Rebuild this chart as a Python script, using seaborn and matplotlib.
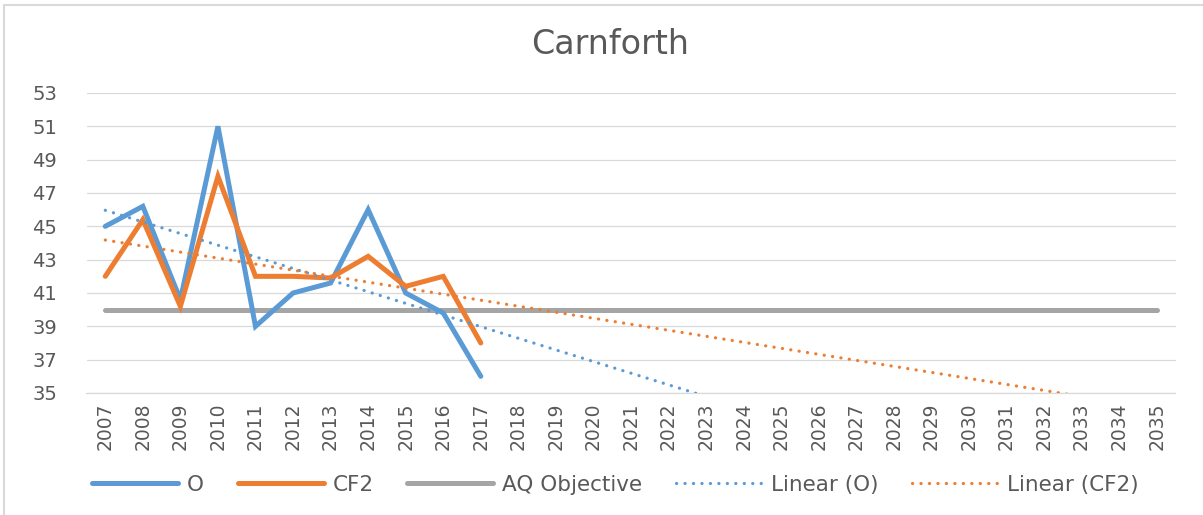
import matplotlib
matplotlib.use("Agg")
import matplotlib.pyplot as plt
import seaborn as sns
import pandas as pd
import numpy as np
from matplotlib.lines import Line2D

# ---- data ----
title = "Carnforth"
years_all = list(range(2007, 2036))
years_obs = list(range(2007, 2018))
o_values = [45.0, 46.2, 40.6, 51.0, 39.0, 41.0, 41.6, 46.0, 41.0, 39.8, 36.0]
cf2_values = [42.0, 45.4, 40.2, 48.0, 42.0, 42.0, 41.9, 43.2, 41.4, 42.0, 38.0]
aq_objective = [40] * len(years_all)
y_ticks = list(range(35, 54, 2))

BLUE = "#5B9BD5"
ORANGE = "#ED7D31"
GRAY = "#A5A5A5"
TXT = "#595959"

sns.set_theme(style="white")
plt.rcParams["font.family"] = ["DejaVu Sans"]

fig = plt.figure(figsize=(12.03, 5.15), dpi=100)
ax = fig.add_axes([86.5 / 1203, 1 - 393 / 515, (1175.5 - 86.5) / 1203, 300 / 515])

obs = pd.DataFrame({"year": years_obs, "O": o_values, "CF2": cf2_values})
aq = pd.DataFrame({"year": years_all, "AQ": aq_objective})

ax.set_ylim(35, 53)
ax.set_yticks(y_ticks)
ax.grid(axis="y", color="#D9D9D9", lw=0.9)
ax.set_axisbelow(True)

lw = 3.6
sns.lineplot(data=obs, x="year", y="O", ax=ax, color=BLUE, lw=lw, label="O",
             solid_capstyle="round", solid_joinstyle="miter", zorder=4)
sns.lineplot(data=obs, x="year", y="CF2", ax=ax, color=ORANGE, lw=lw, label="CF2",
             solid_capstyle="round", solid_joinstyle="miter", zorder=5)
sns.lineplot(data=aq, x="year", y="AQ", ax=ax, color=GRAY, lw=lw, label="AQ Objective",
             solid_capstyle="round", zorder=3)

# trendlines spanning first..last category
ax.set_xlim(2007, 2035)
dot = (0, (0.05, 2.6))
sns.regplot(data=obs, x="year", y="O", ax=ax, scatter=False, ci=None, truncate=False,
            label="Linear (O)",
            line_kws=dict(color=BLUE, lw=2.3, ls=dot, dash_capstyle="round", zorder=6))
sns.regplot(data=obs, x="year", y="CF2", ax=ax, scatter=False, ci=None, truncate=False,
            label="Linear (CF2)",
            line_kws=dict(color=ORANGE, lw=2.3, ls=dot, dash_capstyle="round", zorder=6))

ax.set_xlim(2006.5, 2035.5)
ax.set_ylim(35, 53)
ax.set_xticks(years_all)
ax.set_xticklabels([str(y) for y in years_all], rotation=90, fontsize=13.5, color=TXT)
ax.set_yticklabels([str(v) for v in y_ticks], fontsize=14, color=TXT)
ax.tick_params(axis="x", pad=7, length=0)
ax.tick_params(axis="y", pad=39, length=0)
for lab in ax.get_yticklabels():
    lab.set_horizontalalignment("left")
ax.set_xlabel("")
ax.set_ylabel("")
for s in ["top", "right", "left"]:
    ax.spines[s].set_visible(False)
ax.spines["bottom"].set_color("#D9D9D9")
ax.spines["bottom"].set_linewidth(0.9)

fig.suptitle(title, x=610 / 1203, y=1 - 45 / 515, va="center", fontsize=24, color=TXT)

handles, labels = ax.get_legend_handles_labels()
if ax.get_legend():
    ax.get_legend().remove()
order = ["O", "CF2", "AQ Objective", "Linear (O)", "Linear (CF2)"]
hmap = dict(zip(labels, handles))
fig.legend([hmap[k] for k in order], order, loc="center left",
           bbox_to_anchor=(92 / 1203, 1 - 485 / 515), ncol=5, frameon=False,
           fontsize=15.5, labelcolor=TXT, handlelength=4.0, columnspacing=1.55,
           handletextpad=0.42, borderaxespad=0, borderpad=0)

# chart border (top/left visible in reference)
fig.add_artist(Line2D([4 / 1203, 4 / 1203], [0, 1 - 5 / 515], transform=fig.transFigure,
                      color="#D9D9D9", lw=1.5))
fig.add_artist(Line2D([4 / 1203, 1], [1 - 5 / 515, 1 - 5 / 515], transform=fig.transFigure,
                      color="#D9D9D9", lw=1.5))

fig.savefig("out.png", dpi=100)
